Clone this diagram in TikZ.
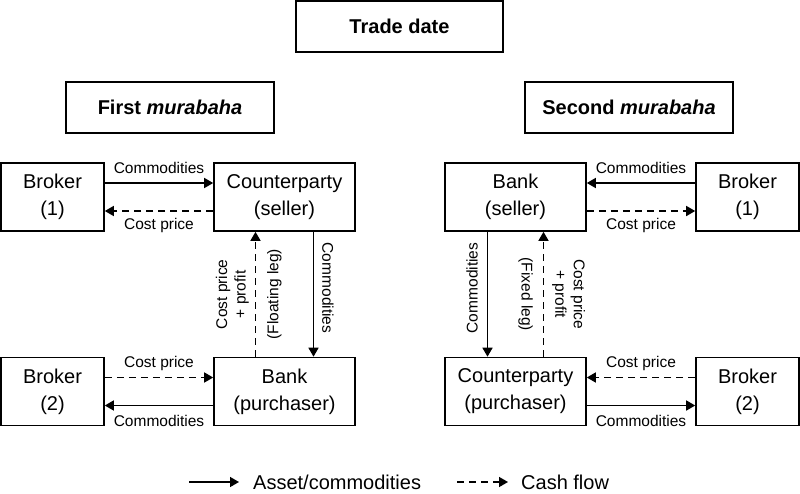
\documentclass[tikz,border=0pt]{standalone}
\usepackage{fontspec}
\setmainfont{Liberation Sans}
\usetikzlibrary{arrows.meta}
\begin{document}
\begin{tikzpicture}[x=1pt, y=-1pt,
    box/.style={draw, line width=1.6pt, minimum width=141pt, minimum height=68pt,
      inner sep=0pt, align=center, font=\fontsize{20}{27}\selectfont},
    brokerbox/.style={box, minimum width=103pt},
    headbox/.style={draw, line width=1.6pt, minimum width=208pt, minimum height=51pt,
      inner sep=0pt, font=\fontsize{20}{24}\selectfont\bfseries},
    lbl/.style={font=\fontsize{15.5}{17}\selectfont, inner sep=1pt, text height=11pt, text depth=3pt},
    vlbl/.style={font=\fontsize{15.5}{18.5}\selectfont, align=center, midway},
    goods/.style={line width=1.5pt, -{Triangle[length=9pt,width=10pt]}},
    cash/.style={goods, dash pattern=on 7pt off 5pt}]
  \useasboundingbox (0,0) rectangle (800,493);

  % headings
  \node[headbox, minimum width=207pt] (date) at (399.5,26.5) {Trade date};
  \node[headbox] (first) at (170,107.5) {First \textit{murabaha}};
  \node[headbox] (second) at (629,107.5) {Second \textit{murabaha}};

  % first murabaha
  \node[brokerbox] (brkA) at (52.5,197) {Broker\\(1)};
  \node[box] (cpS) at (284.5,197) {Counterparty\\(seller)};
  \node[brokerbox] (brkB) at (52.5,391.5) {Broker\\(2)};
  \node[box] (bankP) at (284.5,391.5) {Bank\\(purchaser)};

  \draw[goods] ([yshift=14pt]brkA.east) -- ([yshift=14pt]cpS.west)
    node[lbl, midway, above=5pt] {Commodities};
  \draw[cash] ([yshift=-14pt]cpS.west) -- ([yshift=-14pt]brkA.east)
    node[lbl, midway, below=6pt] {Cost price};
  \draw[cash] ([yshift=14pt]brkB.east) -- ([yshift=14pt]bankP.west)
    node[lbl, midway, above=5pt] {Cost price};
  \draw[goods] ([yshift=-14pt]bankP.west) -- ([yshift=-14pt]brkB.east)
    node[lbl, midway, below=8pt] {Commodities};
  \draw[cash] ([xshift=-29pt]bankP.north) -- ([xshift=-29pt]cpS.south)
    node[vlbl, rotate=90, anchor=south, inner sep=6pt] {Cost price\\+ profit}
    node[vlbl, rotate=90, anchor=north, inner sep=11pt] {(Floating leg)};
  \draw[goods] ([xshift=29pt]cpS.south) -- ([xshift=29pt]bankP.north)
    node[vlbl, pos=0.45, rotate=-90, anchor=south, inner sep=8pt] {Commodities};

  % second murabaha
  \node[box] (bankS) at (515.5,197) {Bank\\(seller)};
  \node[brokerbox] (brkC) at (747.5,197) {Broker\\(1)};
  \node[box] (cpP) at (515.5,391.5) {Counterparty\\(purchaser)};
  \node[brokerbox] (brkD) at (747.5,391.5) {Broker\\(2)};

  \draw[goods] ([yshift=14pt]brkC.west) -- ([yshift=14pt]bankS.east)
    node[lbl, midway, above=5pt] {Commodities};
  \draw[cash] ([yshift=-14pt]bankS.east) -- ([yshift=-14pt]brkC.west)
    node[lbl, midway, below=6pt] {Cost price};
  \draw[cash] ([yshift=14pt]brkD.west) -- ([yshift=14pt]cpP.east)
    node[lbl, midway, above=5pt] {Cost price};
  \draw[goods] ([yshift=-14pt]cpP.east) -- ([yshift=-14pt]brkD.west)
    node[lbl, midway, below=8pt] {Commodities};
  \draw[goods] ([xshift=-28pt]bankS.south) -- ([xshift=-28pt]cpP.north)
    node[vlbl, pos=0.45, rotate=90, anchor=south, inner sep=9pt] {Commodities};
  \draw[cash] ([xshift=28pt]cpP.north) -- ([xshift=28pt]bankS.south)
    node[vlbl, rotate=-90, anchor=north, inner sep=10pt] {(Fixed leg)}
    node[vlbl, rotate=-90, anchor=south, inner sep=8pt] {Cost price\\+ profit};

  % legend
  \node[font=\fontsize{20}{24}\selectfont, inner sep=0pt, anchor=west] (lgA) at (253,482) {Asset/commodities};
  \node[font=\fontsize{20}{24}\selectfont, inner sep=0pt, anchor=west] (lgB) at (521,482) {Cash flow};
  \coordinate (lgAs) at (189,482);
  \coordinate (lgBs) at (457,482);
  \draw[goods] (lgAs) -- ([xshift=-14pt]lgA.west);
  \draw[cash] (lgBs) -- ([xshift=-13pt]lgB.west);
\end{tikzpicture}
\end{document}
